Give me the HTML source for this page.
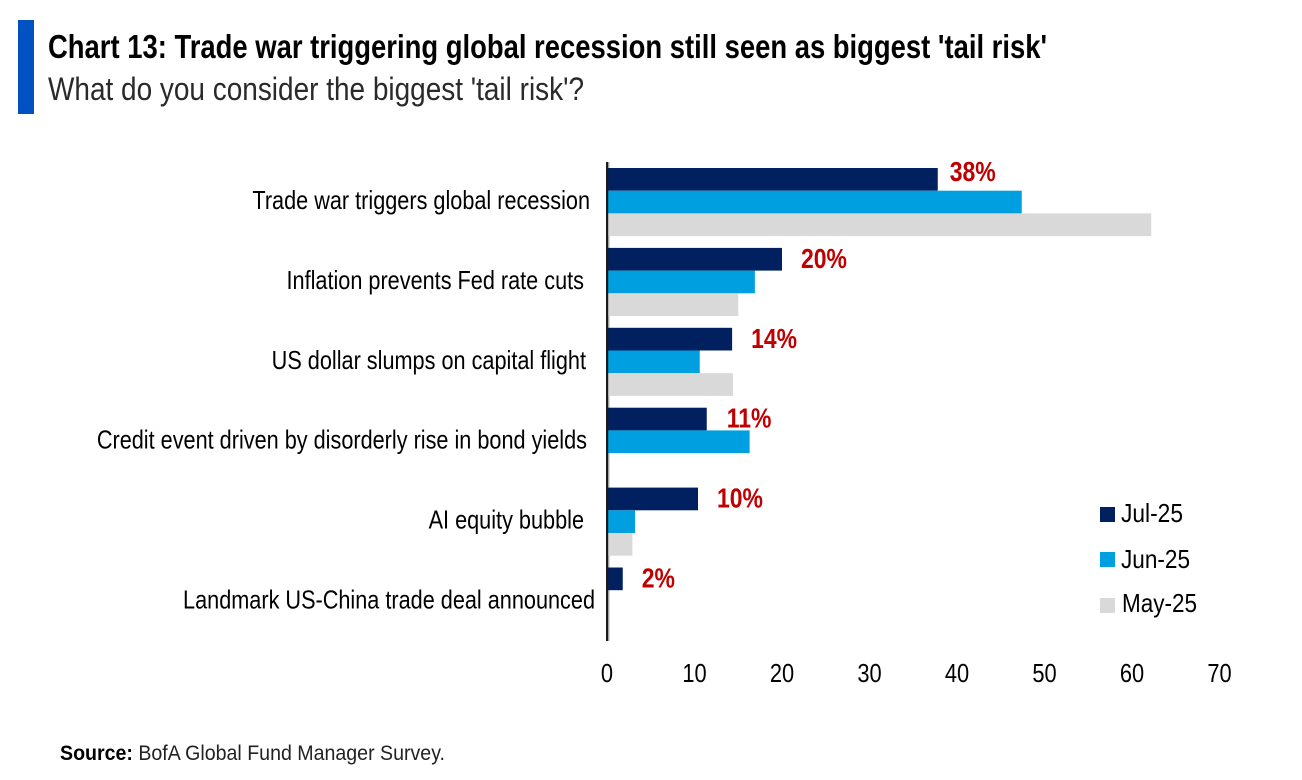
<!DOCTYPE html>
<html lang="en">
<head>
<meta charset="utf-8">
<title>Chart 13: Trade war triggering global recession still seen as biggest 'tail risk'</title>
<style>
html,body{margin:0;padding:0;background:#fff;width:1302px;height:780px;overflow:hidden}
svg{display:block}
text{font-family:"Liberation Sans",sans-serif;fill:#000}
</style>
</head>
<body>
<svg id="chart" width="1302" height="780" viewBox="0 0 1302 780" xmlns="http://www.w3.org/2000/svg">
  <rect x="18" y="20" width="16" height="94" fill="#0052c2"/>
  <text x="48" y="58" font-size="33" font-weight="700" textLength="999" lengthAdjust="spacingAndGlyphs">Chart 13: Trade war triggering global recession still seen as biggest 'tail risk'</text>
  <text x="48" y="100" font-size="32" textLength="536" lengthAdjust="spacingAndGlyphs" style="fill:#2a2a2a">What do you consider the biggest 'tail risk'?</text>

  <rect x="608" y="162" width="1.6" height="479" fill="#c4c4c4"/>
  <g id="bars"></g>
  <g id="value-labels"></g>
  <g id="category-labels"></g>
  <g id="x-ticks"></g>
  <rect x="606" y="162" width="2.2" height="479" fill="#1a1a1a"/>

  <g>
    <g>
      <rect x="1100" y="507" width="15" height="15" fill="#002060"/>
      <text x="1121" y="522" font-size="26" textLength="62" lengthAdjust="spacingAndGlyphs">Jul-25</text>
    </g>
    <g>
      <rect x="1100" y="552" width="15" height="15" fill="#009fdf"/>
      <text x="1121" y="568" font-size="26" textLength="69" lengthAdjust="spacingAndGlyphs">Jun-25</text>
    </g>
    <g>
      <rect x="1100" y="598" width="15" height="15" fill="#d9d9d9"/>
      <text x="1122" y="612" font-size="26" textLength="75" lengthAdjust="spacingAndGlyphs">May-25</text>
    </g>
  </g>

  <text x="60" y="760" font-size="21" textLength="385" lengthAdjust="spacingAndGlyphs" style="fill:#222"><tspan font-weight="700" style="fill:#000">Source:</tspan> BofA Global Fund Manager Survey.</text>
</svg>
<script>
const categories = [
  "Trade war triggers global recession",
  "Inflation prevents Fed rate cuts",
  "US dollar slumps on capital flight",
  "Credit event driven by disorderly rise in bond yields",
  "AI equity bubble",
  "Landmark US-China trade deal announced"
];
const jul25 = [37.8, 20, 14.3, 11.4, 10.4, 1.8];
const jun25 = [47.4, 16.9, 10.6, 16.3, 3.2, null];
const may25 = [62.2, 15, 14.4, null, 2.9, null];
const printedLabels = ["38%", "20%", "14%", "11%", "10%", "2%"];
const tickValues = [0, 10, 20, 30, 40, 50, 60, 70];

const svgNS = "http://www.w3.org/2000/svg";
const xAxis = function (v) { return 607 + v * 8.75; };
const bandTop = function (i) { return 168 + i * 79.9; };
const barHeight = 22.7;
const labelEdgeTweak = function (i) {
  if (i === 0) return 590;
  if (i === 1) return 584;
  if (i === 2) return 586;
  if (i === 3) return 587;
  if (i === 4) return 584;
  return 595;
};
const slug = function (s) { return s.toLowerCase().replace(/[^a-z0-9]+/g, "-"); };

const seriesList = [
  { id: "jul-25", values: jul25, color: "#002060" },
  { id: "jun-25", values: jun25, color: "#009fdf" },
  { id: "may-25", values: may25, color: "#d9d9d9" }
];

const barsGroup = document.getElementById("bars");
seriesList.forEach(function (series, s) {
  series.values.forEach(function (value, i) {
    if (value === null) return;
    const bar = document.createElementNS(svgNS, "rect");
    bar.setAttribute("x", xAxis(0));
    bar.setAttribute("y", bandTop(i) + s * barHeight);
    bar.setAttribute("width", xAxis(value) - xAxis(0));
    bar.setAttribute("height", barHeight);
    bar.setAttribute("fill", series.color);
    
    
    barsGroup.appendChild(bar);
  });
});

const valueGroup = document.getElementById("value-labels");
printedLabels.forEach(function (label, i) {
  const t = document.createElementNS(svgNS, "text");
  const gap = i === 0 ? 12 : (i === 3 ? 20 : 19);
  const baseline = bandTop(i) + (i === 0 ? 13 : 20);
  t.setAttribute("transform", "translate(" + (xAxis(jul25[i]) + gap) + "," + baseline + ") scale(0.82,1)");
  t.setAttribute("font-size", "28");
  t.setAttribute("font-weight", "700");
  t.style.fill = "#c00000";
  t.textContent = label;
  
  
  valueGroup.appendChild(t);
});

const categoryGroup = document.getElementById("category-labels");
categories.forEach(function (name, i) {
  const t = document.createElementNS(svgNS, "text");
  t.setAttribute("transform", "translate(" + labelEdgeTweak(i) + "," + (bandTop(i) + 41) + ") scale(0.85,1)");
  t.setAttribute("text-anchor", "end");
  t.setAttribute("font-size", "25.5");
  t.textContent = name;
  
  
  categoryGroup.appendChild(t);
});

const tickGroup = document.getElementById("x-ticks");
tickValues.forEach(function (tick) {
  const t = document.createElementNS(svgNS, "text");
  t.setAttribute("transform", "translate(" + xAxis(tick) + ",682) scale(0.84,1)");
  t.setAttribute("text-anchor", "middle");
  t.setAttribute("font-size", "26");
  t.textContent = String(tick);
  
  
  tickGroup.appendChild(t);
});
</script>
</body>
</html>
